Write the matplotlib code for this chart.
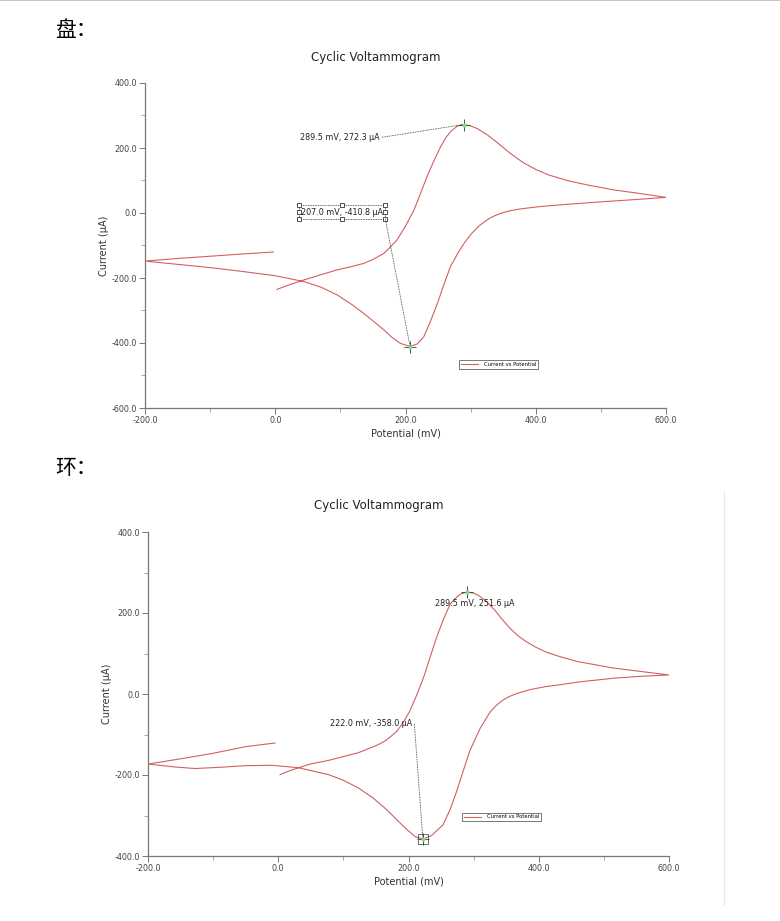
import matplotlib
matplotlib.use("Agg")
import matplotlib.pyplot as plt
from matplotlib.lines import Line2D
from matplotlib.ticker import MultipleLocator, FormatStrFormatter

plt.rcParams['font.family'] = ['DejaVu Sans']
plt.rcParams['axes.unicode_minus'] = False

# disk electrode (盘): potential in mV, current in uA, in scan order
disk_potential = [-3, -50, -100, -150, -200,
                  -150, -100, -50, 0, 44, 70, 95, 115, 136, 150, 167, 180, 192, 207, 218, 228,
                  238, 249, 259, 269, 280, 290, 302, 315, 330, 340, 351, 363, 375, 390, 403, 425,
                  450, 505, 550, 600,
                  560, 520, 480, 450, 420, 400, 380, 360, 340, 326, 310, 300, 289.5, 280, 270, 262,
                  254, 244, 233, 223, 213, 200, 187, 175, 167, 150, 136, 115, 95, 70, 44, 20, 2.6]
disk_current = [-120, -126, -133, -140, -148,
                -158, -168, -180, -193, -211, -228, -252, -278, -309, -332, -360, -384, -401, -410.8, -403, -381,
                -335, -278, -220, -165, -125, -93, -62, -36, -15, -6, 2, 8, 12, 16, 19, 23,
                27, 35, 41, 48,
                60, 71, 86, 99, 117, 134, 156, 185, 218, 240, 260, 268, 272.3, 268, 252, 232,
                204, 162, 112, 60, 9, -40, -83, -108, -124, -143, -155, -166, -175, -190, -206, -222, -235]

# ring electrode (环)
ring_potential = [-5, -50, -102, -150, -200,
                  -160, -128, -90, -51, -10, 31, 77, 100, 123, 145, 164, 180, 195, 210, 222, 235,
                  253, 264, 274, 284, 294, 310, 325, 335, 345, 355, 366, 387, 410, 433, 463, 515, 560, 600,
                  515, 460, 433, 412, 395, 380, 368, 356, 345, 333, 320, 308, 298, 289.5, 280, 272,
                  264, 253, 243, 233, 223, 212, 202, 192, 182, 172, 164, 151, 123, 77, 49, 20, 2.7]
ring_current = [-121, -130, -147, -160, -173,
                -180, -184, -181, -177, -176, -182, -199, -213, -232, -256, -282, -307, -331, -352, -358, -350,
                -323, -285, -240, -190, -141, -85, -45, -28, -15, -6, 1, 11, 18, 23, 30, 39, 44, 47,
                64, 80, 92, 103, 116, 130, 144, 162, 182, 206, 228, 243, 250, 251.6, 247, 236,
                222, 182, 139, 90, 40, -5, -42, -70, -92, -106, -116, -127, -145, -164, -173, -188, -199]

disk_peaks = [(289.5, 272.3), (207.0, -410.8)]
ring_peaks = [(289.5, 251.6), (222.0, -358.0)]

line_color = '#d35f61'
dot = (0, (1, 1))
fig = plt.figure(figsize=(7.8, 9.21), dpi=100)

# page decorations
fig.add_artist(Line2D([0, 1], [0.9995, 0.9995], color='#bbbbbb', lw=1.2, transform=fig.transFigure))
fig.add_artist(Line2D([724 / 780, 724 / 780], [1 - 492 / 921, 1 - 905 / 921], color='#e6e6e6', lw=0.8,
                      transform=fig.transFigure))
fig.text(55 / 780, 1 - 30 / 921, '盘：', family=['Noto Sans CJK SC', 'DejaVu Sans'], fontsize=15,
         va='center', ha='left')
fig.text(55 / 780, 1 - 468 / 921, '环：', family=['Noto Sans CJK SC', 'DejaVu Sans'], fontsize=15,
         va='center', ha='left')


def draw_cv(rect, title_xy, ylim, pot, cur, peaks, leg_anchor):
    ax = fig.add_axes(rect)
    ax.plot(pot, cur, color=line_color, lw=0.8, label='Current vs Potential')
    ax.set_xlim(-200, 600)
    ax.set_ylim(*ylim)
    ax.xaxis.set_major_locator(MultipleLocator(200))
    ax.xaxis.set_minor_locator(MultipleLocator(100))
    ax.yaxis.set_major_locator(MultipleLocator(200))
    ax.yaxis.set_minor_locator(MultipleLocator(100))
    ax.xaxis.set_major_formatter(FormatStrFormatter('%.1f'))
    ax.yaxis.set_major_formatter(FormatStrFormatter('%.1f'))
    for s in ['top', 'right']:
        ax.spines[s].set_visible(False)
    for s in ['left', 'bottom']:
        ax.spines[s].set_color('#777777')
        ax.spines[s].set_linewidth(0.9)
    ax.tick_params(which='major', length=4, width=0.7, color='#777777', labelsize=5.8,
                   labelcolor='#444444', pad=1.5)
    ax.tick_params(which='minor', length=3, width=0.6, color='#999999')
    ax.set_xlabel('Potential (mV)', fontsize=7, color='#333333', labelpad=3)
    ax.set_ylabel('Current (µA)', fontsize=7, color='#333333', labelpad=2)
    fig.text(title_xy[0], title_xy[1], 'Cyclic Voltammogram', fontsize=8.5,
             color='#222222', ha='center', va='center')
    for x, y in peaks:
        ax.plot([x], [y], marker='+', color='#333333', ms=9, mew=0.6, zorder=5)
        ax.plot([x], [y], marker='o', color='#7be07b', ms=3, mew=0, zorder=6)
    leg = ax.legend(loc='lower left', bbox_to_anchor=leg_anchor, fontsize=3.8, frameon=True,
                    fancybox=False, edgecolor='#555555', handlelength=3.2, borderpad=0.3,
                    handletextpad=1.2)
    leg.get_frame().set_linewidth(0.7)
    return ax


ax1 = draw_cv([145 / 780, 1 - 408 / 921, 521 / 780, 325 / 921], (376 / 780, 1 - 58 / 921), (-600, 400),
              disk_potential, disk_current, disk_peaks, (0.598, 0.113))
ax1.text(160, 231, '%.1f mV, %.1f µA' % disk_peaks[0], fontsize=5.8, ha='right', va='center', color='#222222')
ax1.plot([164, disk_peaks[0][0]], [233, disk_peaks[0][1]], color='#333333', lw=0.6, ls=dot)
# selected label box with handles
bx0, bx1, by0, by1 = 36, 169, -18, 24
ax1.plot([bx0, bx1, bx1, bx0, bx0], [by0, by0, by1, by1, by0], color='#333333', lw=0.6, ls=dot)
ax1.plot([bx0, (bx0 + bx1) / 2, bx1, bx0, bx1, bx0, (bx0 + bx1) / 2, bx1],
         [by1, by1, by1, (by0 + by1) / 2, (by0 + by1) / 2, by0, by0, by0],
         ls='none', marker='s', ms=2.6, mfc='white', mec='#333333', mew=0.6)
ax1.text((bx0 + bx1) / 2, 3, '%.1f mV, %.1f µA' % disk_peaks[1], fontsize=5.8, ha='center', va='center',
         color='#222222')
ax1.plot([bx1, disk_peaks[1][0]], [by0, disk_peaks[1][1]], color='#333333', lw=0.6, ls=dot)

ax2 = draw_cv([148 / 780, 1 - 856 / 921, 521 / 780, 324 / 921], (379 / 780, 1 - 506 / 921), (-400, 400),
              ring_potential, ring_current, ring_peaks, (0.598, 0.1))
ax2.text(302, 224, '%.1f mV, %.1f µA' % ring_peaks[0], fontsize=5.8, ha='center', va='center', color='#222222')
ax2.text(205, -74, '%.1f mV, %.1f µA' % ring_peaks[1], fontsize=5.8, ha='right', va='center', color='#222222')
ax2.plot([209, ring_peaks[1][0]], [-74, ring_peaks[1][1]], color='#333333', lw=0.6, ls=dot)
ax2.plot([ring_peaks[1][0]], [ring_peaks[1][1]], marker='s', ms=7, mfc='none', mec='#333333', mew=0.5,
         ls='none', zorder=4)

fig.savefig('out.png', dpi=100, facecolor='white')
